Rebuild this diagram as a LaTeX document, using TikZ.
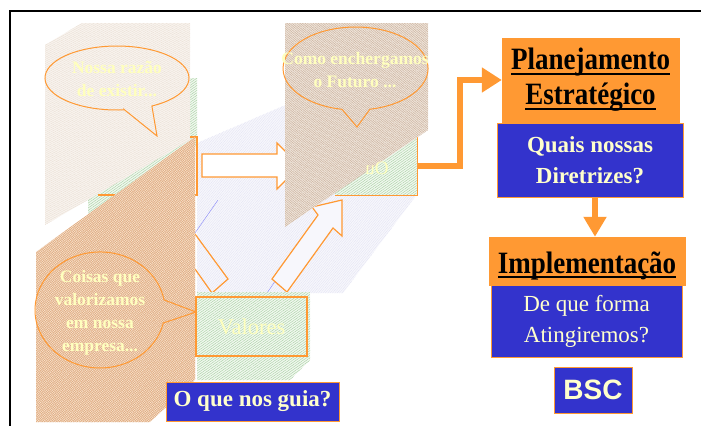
\documentclass[tikz,border=0pt]{standalone}
\usepackage{fontspec}
\setmainfont{Liberation Serif}
\newfontfamily\arialfont{Liberation Sans}
\usepackage{tikz}
\usetikzlibrary{patterns.meta}
\usetikzlibrary{arrows.meta}

\definecolor{laranja}{RGB}{255,153,51}
\definecolor{azul}{RGB}{51,51,204}
\definecolor{creme}{RGB}{255,255,204}
\definecolor{textopalido}{RGB}{255,255,190}
\definecolor{bege}{RGB}{248,243,238}
\definecolor{begelinha}{RGB}{232,220,208}
\definecolor{marrom}{RGB}{240,231,222}
\definecolor{marromlinha}{RGB}{200,172,150}
\definecolor{laranjaclaro}{RGB}{248,228,208}
\definecolor{laranjalinha}{RGB}{222,165,120}
\definecolor{verde}{RGB}{240,247,238}
\definecolor{verdelinha}{RGB}{160,205,155}
\definecolor{lilas}{RGB}{247,247,252}
\definecolor{lilaslinha}{RGB}{225,225,243}

\newcommand{\sublinha}[1]{\setbox0\hbox{#1}\rlap{\rule[-5pt]{\wd0}{2.2pt}}\box0}
\newcommand{\alto}[1]{\scalebox{1}[1.15]{#1}}

\begin{document}
\begin{tikzpicture}[x=1pt, y=-1pt,
    titulo/.style={fill=laranja, draw=laranja, inner sep=2pt, align=center, text=black, font=\fontsize{27}{35}\selectfont\bfseries},
    pergunta/.style={fill=azul, draw=laranja, line width=1pt, inner sep=2pt, align=center, text=creme, font=\fontsize{23}{31}\selectfont},
    bolha/.style={draw=laranja, line width=1pt},
    fala/.style={text=textopalido, align=center, font=\fontsize{17.5}{23}\selectfont\bfseries},
    contorno/.style={draw=laranja, line width=1.2pt},
    conector/.style={draw=laranja, line width=6pt, -{Triangle[length=20pt,width=24pt]}},
    hbege/.style={fill=bege, postaction={pattern={Lines[angle=28,distance=1.8pt,line width=.3pt]}, pattern color=begelinha}},
    hmarrom/.style={fill=marrom, postaction={pattern={Lines[angle=35,distance=1.5pt,line width=.4pt]}, pattern color=marromlinha}},
    hlaranja/.style={fill=laranjaclaro, postaction={pattern={Lines[angle=35,distance=1.7pt,line width=.4pt]}, pattern color=laranjalinha}, postaction={pattern={Lines[angle=-55,distance=1.7pt,line width=.3pt]}, pattern color=laranjalinha}},
    hverde/.style={fill=verde, postaction={pattern={Lines[angle=35,distance=2pt,line width=.35pt]}, pattern color=verdelinha}},
    hlilas/.style={fill=lilas, postaction={pattern={Lines[angle=50,distance=1.8pt,line width=.3pt]}, pattern color=lilaslinha}}]
  \useasboundingbox (0,0) rectangle (701,426);

  % Frame
  \draw[line width=1.3pt] (701,11) -- (10,11) -- (10,426);

  % Middle panel and its arrows
  \path[hlilas] (197,143) -- (290,103) -- (415,103) -- (415,197) -- (343,293) -- (197,293) -- cycle;
  \draw[lilaslinha!60!blue, line width=.4pt] (195,233) -- (218,200) (267,293) -- (317,220);
  \draw[contorno] (195,234) -- (228,279) -- (212,293) -- (195,269);
  \filldraw[contorno, fill=lilas] (342,200) -- (342,236) -- (333,228) -- (287,292) -- (272,279) -- (318,215) -- (312,207) -- cycle;
  \filldraw[contorno, fill=white] (202,154) -- (277,154) -- (277,143) -- (300,166) -- (277,189) -- (277,177) -- (202,177) -- cycle;

  % Green strips
  \path[hverde] (190,78) -- (197,78) -- (197,145) -- (88,228) -- (88,200) -- (190,130) -- cycle;
  \node[hverde, minimum width=82pt, minimum height=58pt, inner sep=0pt] (visao) at (376,166) {};
  \draw[contorno] (visao.north east) -- (visao.south east) -- (visao.south west);

  % Upper left panel
  \path[hbege] (45,45) -- (82,23) -- (190,23) -- (190,140) -- (45,225) -- cycle;
  \draw[bolha] (124.5,109.8) -- (157,136) -- (151.9,106) arc[start angle=61, end angle=-276, x radius=72, y radius=32] -- cycle;
  \node[fala] (razao) at (117,79) {Nossa razão\\de existir...};
  \draw[contorno] (190,137) -- (197,137) -- (197,195) -- (193,195);
  \draw[contorno] (98,195) -- (115,195);

  % Upper right panel
  \path[hmarrom] (285,23) -- (428,23) -- (428,130) -- (285,227) -- cycle;
  \draw[bolha] (342,109.3) -- (357,127) -- (370,109.2) arc[start angle=78.5, end angle=-259.3, x radius=72.5, y radius=41.5] -- cycle;
  \node[fala] (futuro) at (355,70) {Como enchergamos\\o Futuro ...};
  \node[fala, font=\fontsize{19}{23}\selectfont, xscale=-1] (espelho) at (377,168) {Ou};

  % Lower left panel
  \path[hlaranja] (36,252) -- (195,137) -- (195,380) -- (150,422) -- (36,422) -- cycle;
  \draw[bolha] (163.3,323) -- (196,312) -- (164,299.9) arc[start angle=-10, end angle=-347, x radius=65, y radius=58] -- cycle;
  \node[fala] (coisas) at (100,313) {Coisas que\\valorizamos\\em nossa\\empresa...};

  % Values
  \path[hverde] (197,292) -- (310,292) -- (310,360) -- (290,380) -- (197,380) -- cycle;
  \node[contorno, minimum width=111pt, minimum height=59pt, inner sep=2pt, text=textopalido, font=\fontsize{22.5}{27}\selectfont] (valores) at (251.5,326.5) {Valores};
  \node[pergunta, font=\fontsize{23}{31}\selectfont\bfseries, minimum width=173pt, minimum height=39pt] (guia) at (252.5,401.5) {O que nos guia?};

  % Right column
  \node[titulo, minimum width=177pt, minimum height=84pt] (plan) at (590.5,80) {\sublinha{\alto{Planejamento}}\\\sublinha{\alto{Estratégico}}};
  \node[pergunta, font=\fontsize{23}{31}\selectfont\bfseries, minimum width=186pt, minimum height=74pt] (quais) at (590,160) {Quais nossas\\Diretrizes?};
  \node[titulo, minimum width=196pt, minimum height=48pt, text height=24pt, text depth=0pt] (impl) at (587,261) {\sublinha{\alto{Implementação}}};
  \node[pergunta, minimum width=191pt, minimum height=72pt] (forma) at (586.5,321) {De que forma\\Atingiremos?};
  \node[pergunta, font=\fontsize{28}{32}\selectfont\arialfont\bfseries, minimum width=78pt, minimum height=46pt] (bsc) at (593,390) {BSC};

  % Edges
  \draw[conector] (visao.east) -- ++(43,0) |- (plan.west);
  \draw[conector, -{Triangle[length=20pt,width=22pt]}] ([xshift=5pt]quais.south) -- ([xshift=5pt]quais.south |- impl.north);
\end{tikzpicture}
\end{document}
